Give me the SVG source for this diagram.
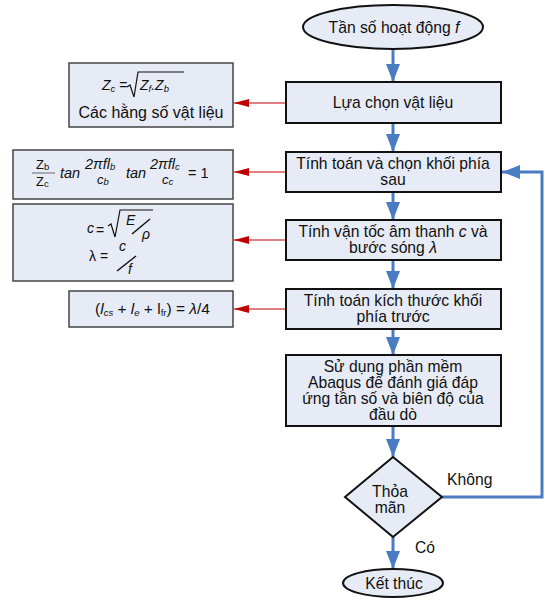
<svg xmlns="http://www.w3.org/2000/svg" width="545" height="600" viewBox="0 0 545 600">
<defs>
<style>
text{font-family:"Liberation Sans",Arial,sans-serif;fill:#111}
.t{font-size:15.7px;text-anchor:middle}
.f{font-size:14px}
.g{font-size:13px}
.h{font-size:14.5px}
.i{font-style:italic}
.s{font-size:9.5px}
.box{fill:#e6ebf5;stroke:#111;stroke-width:2}
.lbox{fill:#e6ebf5;stroke:#444;stroke-width:1.5}
.blue{fill:none;stroke:#4a7cc2;stroke-width:3}
.red{fill:none;stroke:#c00000;stroke-width:1}
.m{fill:none;stroke:#111;stroke-width:1.2}
</style>
<marker id="ab" viewBox="0 0 18 14" refX="18" refY="7" markerWidth="18" markerHeight="14" markerUnits="userSpaceOnUse" orient="auto">
<path d="M0,0 L18,7 L0,14 Z" fill="#4a7cc2"/>
</marker>
<marker id="ar" viewBox="0 0 15 8" refX="15" refY="4" markerWidth="15" markerHeight="8" markerUnits="userSpaceOnUse" orient="auto">
<path d="M0,0 L15,4 L0,8 Z" fill="#c00000"/>
</marker>
</defs>

<g id="connectors">
<line class="blue" x1="393" y1="49" x2="393" y2="82" marker-end="url(#ab)"/>
<line class="blue" x1="393" y1="123" x2="393" y2="152" marker-end="url(#ab)"/>
<line class="blue" x1="393" y1="192" x2="393" y2="220" marker-end="url(#ab)"/>
<line class="blue" x1="393" y1="260" x2="393" y2="289" marker-end="url(#ab)"/>
<line class="blue" x1="393" y1="329" x2="393" y2="355" marker-end="url(#ab)"/>
<line class="blue" x1="393" y1="426" x2="393" y2="457" marker-end="url(#ab)"/>
<line class="blue" x1="393" y1="537" x2="393" y2="569" marker-end="url(#ab)"/>
<polyline class="blue" points="442,497 542,497 542,172 502,172" marker-end="url(#ab)"/>
<line class="red" x1="286" y1="103" x2="234" y2="103" marker-end="url(#ar)"/>
<line class="red" x1="286" y1="172" x2="234" y2="172" marker-end="url(#ar)"/>
<line class="red" x1="286" y1="240" x2="234" y2="240" marker-end="url(#ar)"/>
<line class="red" x1="286" y1="309" x2="234" y2="309" marker-end="url(#ar)"/>
<text x="447" y="485" style="font-size:15.7px">Không</text>
<text x="415" y="553" style="font-size:15.7px">Có</text>
</g>

<g id="start">
<ellipse cx="393" cy="27" rx="90" ry="22" class="box"/>
<text class="t" x="394" y="33">Tần số hoạt động <tspan class="i">f</tspan></text>
</g>

<g id="material">
<rect class="box" x="286" y="82" width="215" height="41"/>
<text class="t" x="393" y="108">Lựa chọn vật liệu</text>
</g>

<g id="backblock">
<rect class="box" x="286" y="152" width="215" height="40"/>
<text class="t" x="393" y="169">Tính toán và chọn khối phía</text>
<text class="t" x="393" y="185">sau</text>
</g>

<g id="speed">
<rect class="box" x="286" y="220" width="215" height="40"/>
<text class="t" x="393" y="237">Tính vận tốc âm thanh <tspan class="i">c</tspan> và</text>
<text class="t" x="393" y="253">bước sóng <tspan class="i">λ</tspan></text>
</g>

<g id="frontblock">
<rect class="box" x="286" y="289" width="215" height="40"/>
<text class="t" x="393" y="306">Tính toán kích thước khối</text>
<text class="t" x="393" y="322">phía trước</text>
</g>

<g id="abaqus">
<rect class="box" x="286" y="355" width="215" height="71"/>
<text class="t" x="393" y="372">Sử dụng phần mềm</text>
<text class="t" x="393" y="388">Abaqus để đánh giá đáp</text>
<text class="t" x="393" y="404">ứng tần số và biên độ của</text>
<text class="t" x="393" y="420">đầu dò</text>
</g>

<g id="decision">
<polygon class="box" points="393,457 442,497 393,537 345,497"/>
<text class="t" x="390" y="497">Thỏa</text>
<text class="t" x="390" y="513">mãn</text>
</g>

<g id="end">
<ellipse cx="393" cy="583" rx="50" ry="14" class="box"/>
<text class="t" x="394" y="589">Kết thúc</text>
</g>

<g id="f1">
<rect class="lbox" x="69" y="63" width="164" height="64"/>
<text class="f" x="102" y="90"><tspan class="i">Z</tspan><tspan class="s i" dy="2">c</tspan><tspan dy="-2"> =</tspan></text>
<polyline class="m" points="127,87 130,85 134,97 138,72 184,72"/>
<text class="f i" x="140" y="90">Z<tspan class="s" dy="2">f</tspan><tspan dy="-2">.Z</tspan><tspan class="s" dy="2">b</tspan></text>
<text class="t" x="151" y="118" style="font-size:16px">Các hằng số vật liệu</text>
</g>

<g id="f2">
<rect class="lbox" x="13" y="150" width="220" height="49"/>
<text class="g" x="36" y="169">Z<tspan class="s" dy="1">b</tspan></text>
<line x1="32" y1="173" x2="55" y2="173" stroke="#666" stroke-width="1"/>
<text class="g" x="36" y="186">Z<tspan class="s" dy="1">c</tspan></text>
<text class="h i" x="60" y="178">tan</text>
<text class="h i" x="85" y="169">2πfl<tspan class="s" dy="1">b</tspan></text>
<text class="g i" x="97" y="184">c<tspan class="s" dy="1">b</tspan></text>
<text class="h i" x="126" y="178">tan</text>
<text class="h i" x="150" y="169">2πfl<tspan class="s" dy="1">c</tspan></text>
<text class="g i" x="162" y="184">c<tspan class="s" dy="1">c</tspan></text>
<text class="h" x="188" y="178">= 1</text>
</g>

<g id="f3">
<rect class="lbox" x="13" y="204" width="220" height="77"/>
<text class="f i" x="87" y="233">c</text>
<text class="f" x="96" y="235">=</text>
<polyline class="m" points="108,226 111,224 115,237 120,210 153,210"/>
<text class="f i" x="126" y="225">E</text>
<line x1="132" y1="234" x2="150" y2="219" stroke="#111" stroke-width="1.5"/>
<text class="f i" x="142" y="239">ρ</text>
<text class="f" x="89" y="261">λ =</text>
<text class="f i" x="119" y="251">c</text>
<line x1="117" y1="271" x2="136" y2="256" stroke="#111" stroke-width="1.5"/>
<text class="f i" x="128" y="274">f</text>
</g>

<g id="f4">
<rect class="lbox" x="69" y="291" width="164" height="36"/>
<text x="95" y="314" style="font-size:15.5px">(<tspan class="i">l</tspan><tspan class="s i" dy="2">cs</tspan><tspan dy="-2"> + </tspan><tspan class="i">l</tspan><tspan class="s i" dy="2">e</tspan><tspan dy="-2"> + l</tspan><tspan class="s" dy="2">fr</tspan><tspan dy="-2">) = </tspan><tspan class="i">λ</tspan>/4</text>
</g>
</svg>
